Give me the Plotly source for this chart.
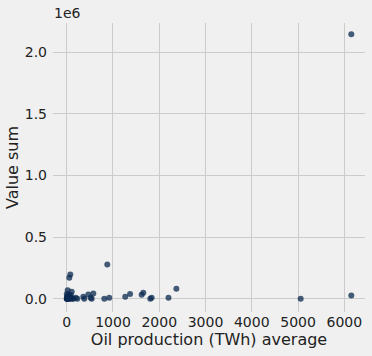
import plotly.graph_objects as go

oil_twh = [22, 56, 78, 108, 877, 813, 920, 1265, 1370, 1620, 1655, 1806, 1836, 2200, 2370,
           5057, 6151, 6151, 359, 380, 467, 519, 540, 575, 195, 229,
           0, 5, 10, 15, 20, 30, 40, 45, 60, 70, 80, 90, 100, 120, 140, 2, 8, 25, 35, 50, 12, 65]
value_sum = [70000, 170000, 197000, 57000, 278000, 0, 8000, 16000, 40000, 32000, 49000, 0, 8000, 8000, 81000,
             0, 27000, 2146000, 16000, 0, 35000, 8000, 0, 43000, 8000, 0,
             0, 3000, 1000, 20000, 5000, 10000, 2000, 25000, 0, 12000, 3000, 30000, 6000, 1000, 0, 40000, 15000, 0, 30000, 8000, 500, 4000]

x_ticks = [0, 1000, 2000, 3000, 4000, 5000, 6000]
y_ticks = [0, 500000, 1000000, 1500000, 2000000]
y_tick_text = ["0.0", "0.5", "1.0", "1.5", "2.0"]

fig = go.Figure(go.Scatter(
    x=oil_twh, y=value_sum, mode="markers",
    marker=dict(size=6, color="#0b2a50", opacity=0.75, line=dict(width=0)),
))

font = "DejaVu Sans, sans-serif"
fig.update_layout(
    width=372, height=356,
    margin=dict(l=53, r=7, t=23, b=44),
    paper_bgcolor="#f0f0f0", plot_bgcolor="#f0f0f0",
    font=dict(family=font, size=14, color="#222222"),
    showlegend=False,
    xaxis=dict(range=[-296, 6447], tickvals=x_ticks, showgrid=True, gridcolor="#cbcbcb",
               gridwidth=1, zeroline=False, showline=False, ticks="", automargin=False,
               tickfont=dict(size=14), ticklabelstandoff=0,
               title=dict(text="Oil production (TWh) average", font=dict(size=16), standoff=2)),
    yaxis=dict(range=[-107000, 2237000], tickvals=y_ticks, ticktext=y_tick_text, showgrid=True,
               gridcolor="#cbcbcb", gridwidth=1, zeroline=False, showline=False, ticks="", automargin=False,
               tickfont=dict(size=14), ticklabelstandoff=5,
               title=dict(text="Value sum", font=dict(size=16), standoff=2)),
    annotations=[dict(text="1e6", xref="paper", yref="paper", x=0.0, y=1.0,
                      xanchor="left", yanchor="bottom", showarrow=False, yshift=0, xshift=-1,
                      font=dict(size=14, family=font, color="#222222"))],
)

fig.write_html("out.html", config={"displayModeBar": False},
               post_script="document.body.style.margin='0';document.body.style.background='#f0f0f0';")
